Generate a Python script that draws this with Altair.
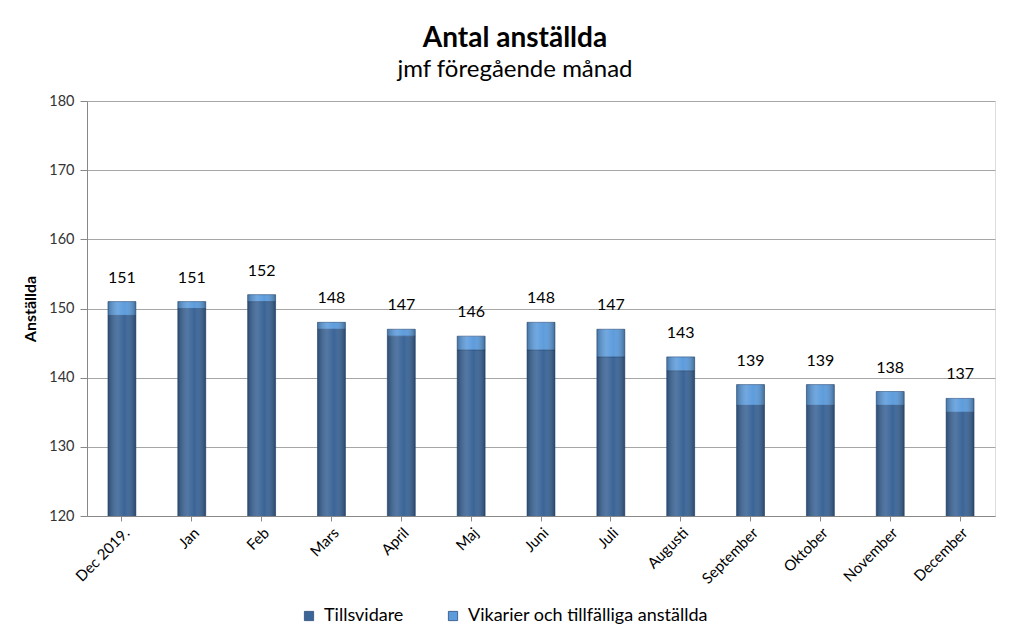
import altair as alt
import pandas as pd

months = ["Dec 2019.", "Jan", "Feb", "Mars", "April", "Maj", "Juni", "Juli",
          "Augusti", "September", "Oktober", "November", "December"]
tillsvidare = [149, 150, 151, 147, 146, 144, 144, 143, 141, 136, 136, 136, 135]
vikarier = [2, 1, 1, 1, 1, 2, 4, 4, 2, 3, 3, 2, 2]
totals = [151, 151, 152, 148, 147, 146, 148, 147, 143, 139, 139, 138, 137]
series = ["Tillsvidare", "Vikarier och tillfälliga anställda"]

rows = []
for m, t, v in zip(months, tillsvidare, vikarier):
    rows.append({"month": m, "series": series[0], "value": t, "ord": 0})
    rows.append({"month": m, "series": series[1], "value": v, "ord": 1})
df = pd.DataFrame(rows)
tot = pd.DataFrame({"month": months, "total": totals})

FONT = "Lato"
xenc = alt.X("month:N", sort=months, title=None,
             scale=alt.Scale(paddingInner=0.6, paddingOuter=0.3),
             axis=alt.Axis(labelAngle=-45, labelFontSize=15, labelColor="#000000",
                           labelFont=FONT, domainColor="#888888", tickColor="#888888",
                           labelPadding=4))
yscale = alt.Scale(domain=[120, 180], nice=False)

bars = alt.Chart(df).mark_bar(clip=True, stroke="#2b4d7a", strokeWidth=0.6).encode(
    x=xenc,
    y=alt.Y("value:Q", stack="zero", scale=yscale, title="Anställda",
            axis=alt.Axis(values=[120, 130, 140, 150, 160, 170, 180], labelFontSize=14.5,
                          labelColor="#333333", labelFont=FONT, titleFont=FONT,
                          titleFontSize=16, titleFontWeight="bold", titleColor="#000000",
                          gridColor="#a6a6a6", domainColor="#888888", tickColor="#888888",
                          tickSize=7, titlePadding=10, labelPadding=6)),
    color=alt.Color("series:N", sort=series,
                    scale=alt.Scale(domain=series, range=["#3b6597", "#5d9cdc"]),
                    legend=alt.Legend(title=None, orient="none", direction="horizontal",
                                      legendX=213, legendY=506, symbolType="square",
                                      symbolSize=85, labelFontSize=18, labelFont=FONT,
                                      labelLimit=0, columnPadding=40, labelOffset=6,
                                      symbolStrokeWidth=0.8,
                                      symbolStrokeColor="#2b4d7a")),
    order=alt.Order("ord:Q"),
)

shade = alt.Chart(tot).mark_bar(clip=True, fill=alt.Gradient(
    gradient="linear", x1=0, x2=1, y1=0, y2=0,
    stops=[alt.GradientStop(offset=0, color="rgba(0,0,0,0.25)"),
           alt.GradientStop(offset=0.35, color="rgba(255,255,255,0.12)"),
           alt.GradientStop(offset=0.6, color="rgba(255,255,255,0.0)"),
           alt.GradientStop(offset=1, color="rgba(0,0,0,0.3)")])).encode(
    x=alt.X("month:N", sort=months),
    y=alt.Y("total:Q", scale=yscale),
    y2=alt.datum(120),
)

labels = alt.Chart(tot).mark_text(baseline="bottom", dy=-16, fontSize=16,
                                  font=FONT, color="#000000").encode(
    x=alt.X("month:N", sort=months),
    y=alt.Y("total:Q", scale=yscale),
    text=alt.Text("total:Q"),
)

chart = alt.layer(bars, shade, labels).properties(
    width=908, height=415,
    title=alt.TitleParams("Antal anställda", subtitle="jmf föregående månad",
                          font=FONT, fontSize=28, fontWeight="bold", color="#000000",
                          subtitleFont=FONT, subtitleFontSize=24, subtitleColor="#000000",
                          anchor="middle", dx=-26, offset=11, subtitlePadding=5),
    autosize=alt.AutoSizeParams(type="none"),
    padding={"left": 79, "top": 93, "right": 14, "bottom": 120},
).configure_view(stroke=None).configure(background="#ffffff")

chart.save("out.html", embed_options={"renderer": "svg", "actions": False})
